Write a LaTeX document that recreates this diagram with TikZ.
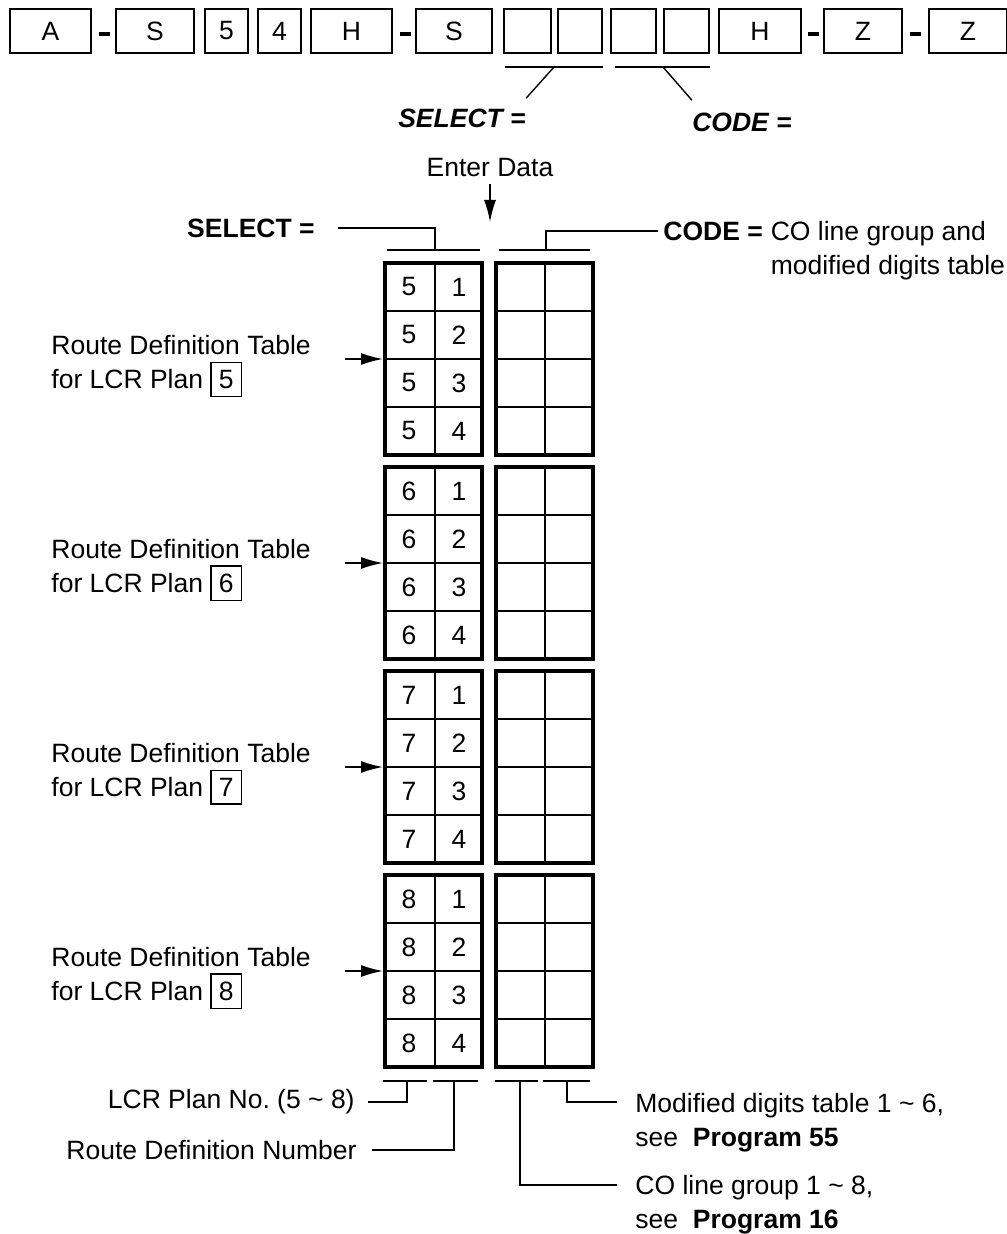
\documentclass[tikz,border=0pt]{standalone}
\usepackage{fontspec}
\setmainfont{Liberation Sans}
\usetikzlibrary{arrows.meta,positioning}
\setlength{\fboxsep}{3.5pt}
\setlength{\fboxrule}{0.7pt}
\newcommand{\lblsize}{\fontsize{13.25}{17}\selectfont}
\tikzset{
  key/.style     = {draw,line width=1.2pt,minimum height=22pt,inner sep=0pt},
  hyph/.style    = {fill=black,inner sep=0pt,minimum width=5.5pt,minimum height=2pt},
  lbl/.style     = {inner sep=0pt,align=left},
  bilbl/.style   = {inner sep=0pt,font=\lblsize\bfseries\itshape},
  grp/.style     = {draw,line width=2pt,minimum width=48.5pt,minimum height=96pt,
                    inner sep=0pt},
  divline/.style = {line width=1.1pt},
  cell/.style    = {inner sep=0pt},
  lead/.style    = {line width=0.7pt},
  arr/.style     = {-{Latex[length=11pt,width=6pt]},line width=0.8pt},
}

\begin{document}
\begin{tikzpicture}[x=0.5pt,y=-0.5pt,font=\lblsize]
  \useasboundingbox (0,0) rectangle (1006,1234);
  % key string
  \foreach \cx/\w/\t [count=\i] in {50.5/40.5/A,155/39/S,226.5/21.5/5,279.5/21.5/4,
      351.5/40.5/H,454/38/S,527.5/23.5/,580/22/,633.5/22.5/,686.5/22.5/,
      760/41/H,863/39/Z,968/39/Z}
    \node[key,minimum width=\w pt] (k\i) at (\cx,31) {\t};
  \foreach \cx [count=\i] in {104,405,813,915}
    \node[hyph] (h\i) at (\cx,34) {};
  \draw[lead] (505,67) -- (603,67);
  \draw[lead] (615,67) -- (710,67);
  \coordinate (selbar) at (554,67);
  \coordinate (codbar) at (663,67);
  \node[bilbl] (selt) at (462,118) {SELECT =};
  \node[bilbl] (codt) at (742,122) {CODE =};
  \draw[lead] (selbar) -- ([yshift=5pt]selt.north east);
  \draw[lead] (codbar) -- ([yshift=6pt]codt.north west);

  % enter data
  \node[lbl] (enter) at (490,168) {Enter Data};
  \coordinate (entry) at (490,222);
  \draw[arr] ([yshift=-3pt]enter.south) -- (entry);

  % select / code brackets
  \draw[lead] (387,250) -- (480,250);
  \draw[lead] (499,250) -- (590,250);
  \node[lbl,anchor=east] (selb) at (315,228) {\textbf{SELECT =}};
  \node[lbl,anchor=west] (codeb) at (663,231) {\textbf{CODE =}};
  \node[lbl,below right=0pt and 3.6pt of codeb.north east] (codet)
    {CO line group and\\modified digits table};
  \draw[lead,shorten >=11.5pt] (435,250) |- (selb.east);
  \draw[lead,shorten >=2.5pt] (546,250) |- (codeb.west);

  % route definition tables
  \foreach \p [count=\g from 0] in {5,6,7,8} {
    \pgfmathsetmacro\yt{261+204*\g}
    \node[grp] (L\p) at (433.5,\yt+98) {};
    \node[grp] (R\p) at (544.5,\yt+98) {};
    \draw[divline] (435,\yt) -- (435,\yt+196);
    \draw[divline] (545,\yt) -- (545,\yt+196);
    \foreach \k in {1,2,3} {
      \draw[divline] (385,\yt+2+48*\k) -- (482,\yt+2+48*\k);
      \draw[divline] (496,\yt+2+48*\k) -- (593,\yt+2+48*\k);
    }
    \foreach \r in {1,...,4} {
      \node[cell] (n\p\r) at (409,\yt-22+48*\r) {\p};
      \node[cell] (d\p\r) at (459,\yt-22+48*\r) {\r};
    }
    \node[lbl,anchor=west] (rt\p) at (51,\yt+105)
      {Route Definition Table\\for LCR Plan \fbox{\p}};
    \draw[arr] ([xshift=-19pt]L\p.west) -- (L\p.west);
  }

  % field legends
  \draw[lead] (383,1081) -- (427,1081);
  \draw[lead] (433,1081) -- (478,1081);
  \draw[lead] (495,1081) -- (538,1081);
  \draw[lead] (543,1081) -- (590,1081);
  \node[lbl,anchor=east] (lcr) at (355,1102) {LCR Plan No.\ (5 \textasciitilde\ 8)};
  \node[lbl,anchor=east] (rdn) at (357,1150) {Route Definition Number};
  \node[lbl,anchor=west] (mod) at (635,1123)
    {Modified digits table 1 \textasciitilde\ 6,\\see\ \ \textbf{Program 55}};
  \node[lbl,anchor=west] (col) at (635,1205)
    {CO line group 1 \textasciitilde\ 8,\\see\ \ \textbf{Program 16}};
  \coordinate (modend) at (617,1102);
  \coordinate (colend) at (617,1185);
  \draw[lead,shorten >=6.5pt] (407,1081) |- (lcr.east);
  \draw[lead,shorten >=7.5pt] (454,1081) |- (rdn.east);
  \draw[lead] (567,1081) |- (modend);
  \draw[lead] (520,1081) |- (colend);
\end{tikzpicture}
\end{document}
